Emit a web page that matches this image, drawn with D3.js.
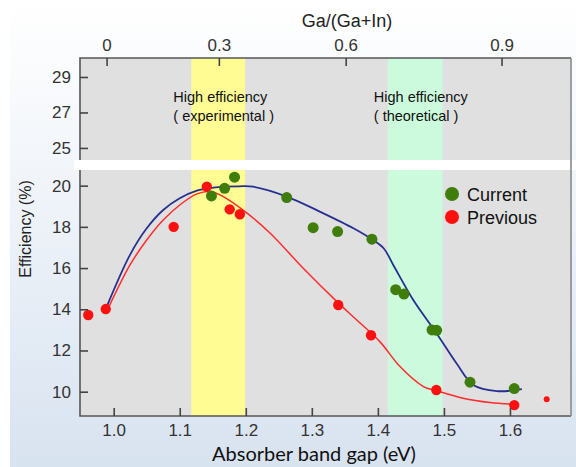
<!DOCTYPE html>
<html>
<head>
<meta charset="utf-8">
<script src="https://cdn.jsdelivr.net/npm/d3@7"></script>
<style>
  body { margin: 0; background: #fff; }
  svg { display: block; }
</style>
</head>
<body>
<svg id="chart" width="576" height="467"></svg>
<script>
// ---- data ----
// measured points (band gap eV, efficiency %)
const currentGap = [1.148, 1.168, 1.183, 1.262, 1.302, 1.339, 1.391, 1.427, 1.4395, 1.482, 1.489, 1.5395, 1.6065];
const currentEff = [19.50, 19.87, 20.41, 19.42, 17.96, 17.77, 17.40, 14.95, 14.74, 13.00, 12.98, 10.46, 10.15];
const previousGap = [0.9615, 0.988, 1.0908, 1.141, 1.1756, 1.191, 1.340, 1.3896, 1.4885, 1.6065];
const previousEff = [13.72, 14.01, 18.00, 19.95, 18.85, 18.61, 14.21, 12.74, 10.08, 9.35];
// the lone small red dot at the far right
const extraGap = [1.6556];
const extraEff = [9.63];

// fitted trend lines
const currentFitGap = [0.9895, 1.0247, 1.050, 1.075, 1.100, 1.126, 1.151, 1.166, 1.19, 1.211, 1.262, 1.312, 1.363, 1.3906, 1.409, 1.4233, 1.4536, 1.489, 1.519, 1.5445, 1.580, 1.618];
const currentFitEff = [14.13, 16.64, 17.93, 18.82, 19.39, 19.76, 19.90, 19.95, 19.97, 19.95, 19.47, 18.74, 17.93, 17.40, 16.95, 16.15, 14.45, 12.83, 11.38, 10.33, 10.03, 10.12];
const previousFitGap = [0.9918, 1.0247, 1.050, 1.075, 1.100, 1.126, 1.145, 1.161, 1.199, 1.237, 1.287, 1.338, 1.368, 1.403, 1.4335, 1.469, 1.4885, 1.529, 1.570, 1.605];
const previousFitEff = [14.05, 16.15, 17.36, 18.33, 19.06, 19.60, 19.72, 19.55, 18.74, 17.69, 15.99, 14.37, 13.48, 12.43, 11.22, 10.25, 10.05, 9.68, 9.47, 9.39];

// shaded ranges (eV)
const bandExperimental = [1.1175, 1.199];
const bandTheoretical = [1.415, 1.498];

// axes
const gapTicks = [1.0, 1.1, 1.2, 1.3, 1.4, 1.5, 1.6];
const effTicks = [10, 12, 14, 16, 18, 20];
const upperTicks = [25, 27, 29];
const gaTickLabels = ["0", "0.3", "0.6", "0.9"];
const gaTickGap = [0.990, 1.160, 1.352, 1.588]; // band gap where each Ga ratio sits

const seriesNames = ["Current", "Previous"];
const seriesColors = ["#3f7d0c", "#ff1010"];

// ---- layout ----
const svg = d3.select("#chart");
const W = 576, H = 467;
const left = 80, right = 571;
const upTop = 58, upBottom = 160;
const lowTop = 170, lowBottom = 416;
const sans = "Liberation Sans, Arial, sans-serif";

const x = d3.scaleLinear().domain([0.949, 1.6924]).range([left, right]);
const yLow = d3.scaleLinear().domain([8.82, 20.76]).range([lowBottom, lowTop]);
const yUp = d3.scaleLinear().domain([24.32, 30.07]).range([upBottom, upTop]);

// background like the slide
const defs = svg.append("defs");
const grad = defs.append("linearGradient").attr("id", "bg")
  .attr("x1", 0).attr("y1", 0).attr("x2", 0).attr("y2", 1);
grad.append("stop").attr("offset", "0%").attr("stop-color", "#ffffff");
grad.append("stop").attr("offset", "30%").attr("stop-color", "#f4f7fb");
grad.append("stop").attr("offset", "100%").attr("stop-color", "#d8e3f0");
svg.append("rect").attr("width", W).attr("height", H).attr("fill", "#fff");
svg.append("rect").attr("x", 10).attr("width", W - 10).attr("height", H).attr("fill", "url(#bg)");

// panels
function panel(top, bottom) {
  const g = svg.append("g");
  g.append("rect").attr("x", left).attr("y", top)
    .attr("width", right - left).attr("height", bottom - top).attr("fill", "#e0e0e0");
  g.append("rect").attr("x", x(bandExperimental[0])).attr("y", top)
    .attr("width", x(bandExperimental[1]) - x(bandExperimental[0])).attr("height", bottom - top)
    .attr("fill", "#fffc94");
  g.append("rect").attr("x", x(bandTheoretical[0])).attr("y", top)
    .attr("width", x(bandTheoretical[1]) - x(bandTheoretical[0])).attr("height", bottom - top)
    .attr("fill", "#cbfbdc");
  return g;
}
const up = panel(upTop, upBottom);
// white gap between the two panels
svg.append("rect").attr("x", left - 6).attr("y", upBottom).attr("width", W - left + 6)
  .attr("height", lowTop - upBottom).attr("fill", "#fff");
const low = panel(lowTop, lowBottom);

// frame lines
const frame = svg.append("g").attr("stroke", "#555").attr("stroke-width", 1.6).attr("fill", "none");
frame.append("path").attr("d", `M${left},${upBottom}V${upTop}H${right}`);
frame.append("path").attr("d", `M${left},${lowTop}V${lowBottom}H${right}`);
svg.append("line").attr("x1", right).attr("x2", right).attr("y1", upTop).attr("y2", lowBottom)
  .attr("stroke", "#8a8a8a").attr("stroke-width", 1.6);

// axes with inward ticks
const axisStyle = g => {
  g.select(".domain").remove();
  g.selectAll(".tick line").attr("stroke", "#444").attr("stroke-width", 1.6);
  g.selectAll(".tick text").attr("fill", "#333")
    .style("font-size", "17px").attr("font-family", sans);
};

svg.append("g").attr("transform", `translate(0,${lowBottom})`)
  .call(d3.axisBottom(x).tickValues(gapTicks).tickFormat(d3.format(".1f")).tickSizeInner(-8).tickPadding(8))
  .call(axisStyle);

svg.append("g").attr("transform", `translate(${left},0)`)
  .call(d3.axisLeft(yLow).tickValues(effTicks).tickSizeInner(-8).tickPadding(9))
  .call(axisStyle);

svg.append("g").attr("transform", `translate(${left},0)`)
  .call(d3.axisLeft(yUp).tickValues(upperTicks).tickFormat(d3.format("d")).tickSizeInner(-8).tickPadding(9))
  .call(axisStyle);

// top axis: Ga/(Ga+In) ratio, each tick placed at its band gap on x
const topTicks = svg.append("g").selectAll("g").data(d3.zip(gaTickLabels, gaTickGap)).join("g")
  .attr("transform", d => `translate(${x(d[1])},${upTop})`);
topTicks.append("line").attr("y2", 8).attr("stroke", "#444").attr("stroke-width", 1.6);
topTicks.append("text").attr("y", -7).attr("text-anchor", "middle")
  .attr("font-family", sans).attr("font-size", 17).attr("fill", "#333")
  .text(d => d[0]);

// axis titles
svg.append("text").attr("x", 347).attr("y", 27).attr("text-anchor", "middle")
  .attr("font-family", sans).attr("font-size", 18).attr("fill", "#222")
  .text("Ga/(Ga+In)");
svg.append("text").attr("transform", `translate(31,229) rotate(-90)`).attr("text-anchor", "middle")
  .attr("font-family", sans).attr("font-size", 16).attr("fill", "#222")
  .text("Efficiency (%)");
svg.append("text").attr("x", 314).attr("y", 461).attr("text-anchor", "middle")
  .attr("font-family", "Lato, sans-serif").attr("font-size", 20).attr("fill", "#111")
  .text("Absorber band gap (eV)");

// region notes in the upper panel
const notes = [
  { x0: bandExperimental[0], lines: ["High efficiency", "( experimental )"], dx: -18 },
  { x0: bandTheoretical[0], lines: ["High efficiency", "( theoretical )"], dx: -14 }
];
notes.forEach(n => {
  const t = up.append("text").attr("font-family", sans)
    .attr("font-size", 14.5).attr("fill", "#111");
  n.lines.forEach((l, i) => {
    t.append("tspan").attr("x", x(n.x0) + n.dx).attr("y", 102 + i * 19).text(l);
  });
});

// fitted lines
const line = d3.line().x(d => x(d[0])).y(d => yLow(d[1])).curve(d3.curveCatmullRom.alpha(0.5));
low.append("path").datum(d3.zip(previousFitGap, previousFitEff))
  .attr("d", line).attr("fill", "none").attr("stroke", "#ff2a2a").attr("stroke-width", 1.5);
low.append("path").datum(d3.zip(currentFitGap, currentFitEff))
  .attr("d", line).attr("fill", "none").attr("stroke", "#27308f").attr("stroke-width", 1.8);

// points
low.selectAll(".prev").data(d3.zip(previousGap, previousEff)).join("circle")
  .attr("cx", d => x(d[0])).attr("cy", d => yLow(d[1])).attr("r", 5.2).attr("fill", seriesColors[1]);
low.selectAll(".extra").data(d3.zip(extraGap, extraEff)).join("circle")
  .attr("cx", d => x(d[0])).attr("cy", d => yLow(d[1])).attr("r", 3).attr("fill", seriesColors[1]);
low.selectAll(".cur").data(d3.zip(currentGap, currentEff)).join("circle")
  .attr("cx", d => x(d[0])).attr("cy", d => yLow(d[1])).attr("r", 5.5).attr("fill", seriesColors[0]);

// legend
const legend = svg.append("g").attr("transform", "translate(452,194)");
seriesNames.forEach((name, i) => {
  legend.append("circle").attr("cx", 0).attr("cy", i * 23).attr("r", 7).attr("fill", seriesColors[i]);
  legend.append("text").attr("x", 15).attr("y", i * 23 + 6.5)
    .attr("font-family", sans).attr("font-size", 18).attr("fill", "#111")
    .text(name);
});
</script>
</body>
</html>
